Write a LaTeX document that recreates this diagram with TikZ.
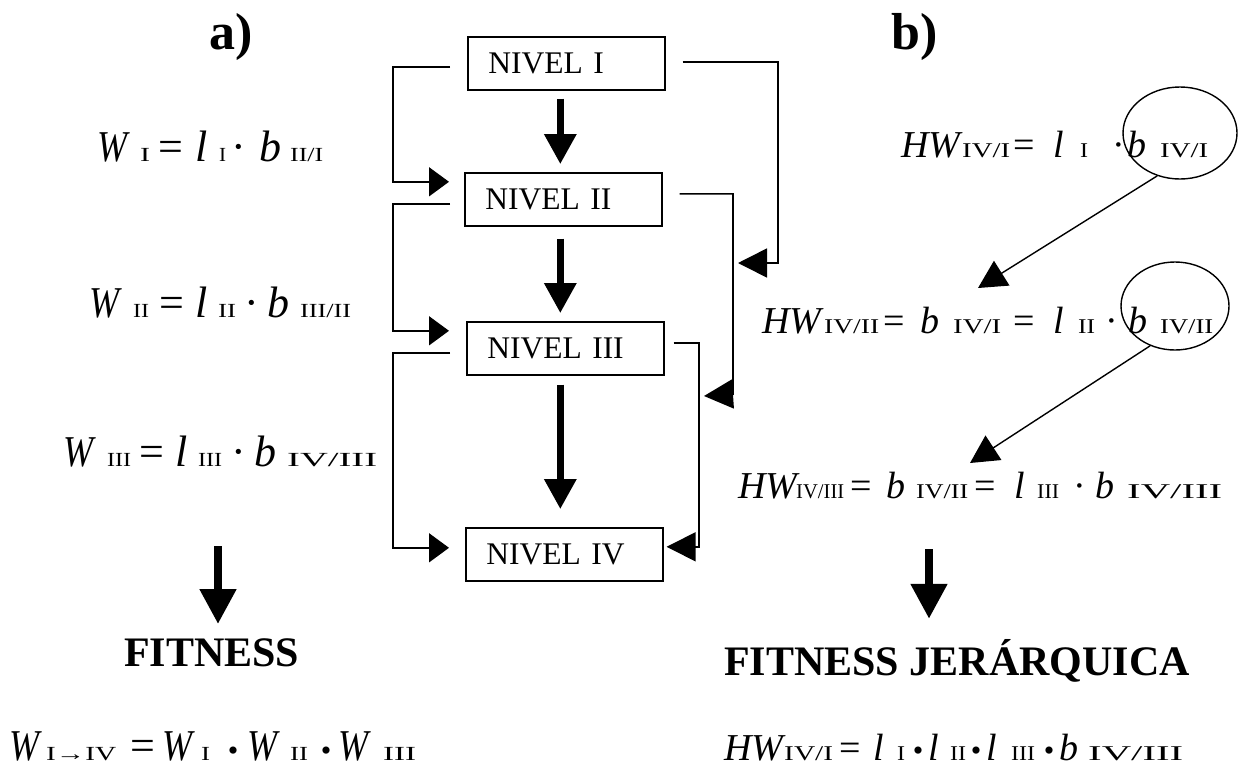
\documentclass[tikz,border=0pt]{standalone}
\usepackage{fontspec}
\setmainfont{Liberation Serif}
\usepackage{graphicx}
\usetikzlibrary{arrows.meta,shapes.geometric}

% pieces of the formulas: large italic symbols, large operators, small roman indices
\newcommand\LVar[1]{{\fontsize{44}{44}\selectfont\itshape #1}}
\newcommand\LOp[1]{{\fontsize{44}{44}\selectfont #1}}
\newcommand\LW{\scalebox{0.82}[1]{\LVar{W}}}
\newcommand\RVar[1]{{\fontsize{38}{38}\selectfont\itshape #1}}
\newcommand\ROp[1]{{\fontsize{38}{38}\selectfont #1}}
\newcommand\Ix[2]{\resizebox{#1pt}{\height}{\fontsize{20}{20}\selectfont #2}}
\newcommand\IxR[2]{\resizebox{#1pt}{\height}{\fontsize{21}{21}\selectfont #2}}
\newcommand\Bul{{\fontsize{30}{30}\selectfont •}}
% one token of a formula, given the advance to the next token
\newcommand\Tk[2]{\makebox[#1pt][l]{#2}}

\begin{document}
\begin{tikzpicture}[x=1pt,y=-1pt,
  lvl/.style={draw, line width=1.6pt, anchor=north west, minimum height=53pt,
    text width=156pt, inner xsep=20.5pt, inner ysep=0pt, align=left,
    font=\fontsize{31.5}{32}\selectfont},
  eq/.style={anchor=base west, inner sep=0pt},
  ttl/.style={anchor=base west, inner sep=0pt, font=\bfseries\fontsize{52}{52}\selectfont},
  res/.style={anchor=base west, inner sep=0pt, font=\bfseries\fontsize{42}{42}\selectfont},
  down/.style={line width=6.5pt, -{Triangle[length=30pt,width=31pt]}},
  bigdown/.style={line width=8pt, -{Triangle[length=35pt,width=35pt]}},
  feed/.style={line width=1.6pt, -{Triangle[length=20pt,width=29pt]}},
  back/.style={line width=1.6pt, -{Triangle[length=29pt,width=29pt]}},
  pass/.style={line width=1.4pt, -{Triangle[length=28pt,width=29pt]}},
  ring/.style={draw, ellipse, line width=1.4pt, inner sep=0pt}
]
\useasboundingbox (0,0) rectangle (1241,769);

% panel titles
\node[ttl] (ta) at (209,49) {a)};
\node[ttl] (tb) at (891,49) {b)};

% the four levels
\node[lvl] (n1) at (467,36) {NIVEL I};
\node[lvl] (n2) at (464,172) {NIVEL II};
\node[lvl] (n3) at (466,321) {NIVEL III};
\node[lvl] (n4) at (465,527) {NIVEL IV};

% level to level
\draw[down] ([xshift=-6pt,yshift=-8pt]n1.south) -- ([xshift=-3pt,yshift=8pt]n2.north);
\draw[down] ([xshift=-3pt,yshift=-12pt]n2.south) -- ([xshift=-5pt,yshift=8pt]n3.north);
\draw[down] ([xshift=-5pt,yshift=-9pt]n3.south) -- ([xshift=-4pt,yshift=18pt]n4.north);

% left brackets
\coordinate (lx) at (393,0);
\draw[feed] ([xshift=-17pt,yshift=-3.5pt]n1.west) coordinate (s1) -- (s1 -| lx)
  |- ([xshift=-15pt,yshift=17.5pt]n2.west);
\draw[feed] ([xshift=-14pt,yshift=-4.5pt]n2.west) coordinate (s2) -- (s2 -| lx)
  |- ([xshift=-17pt,yshift=17.5pt]n3.west);
\draw[feed] ([xshift=-16pt,yshift=-4.5pt]n3.west) coordinate (s3) -- (s3 -| lx)
  |- ([xshift=-16pt,yshift=6.5pt]n4.west);

% right connectors
\coordinate (t1) at (738,263);
\coordinate (t2) at (704,396);
\draw[back] ([xshift=17pt,yshift=1.5pt]n1.east) coordinate (r1) -- (r1 -| 778,0) -- (778,263) -- (t1);
\draw[back] ([xshift=17pt,yshift=5.5pt]n2.east) coordinate (r2) -- (r2 -| 733,0) -- (733,394) -- (t2);
\draw[back] ([xshift=9pt,yshift=5.5pt]n3.east) coordinate (r3) -- (r3 -| 699,0)
  |- ([xshift=3pt,yshift=7.5pt]n4.east);

% fitness per level
\node[eq] (w1) at (97,161) {\Tk{43}{\LW}\Tk{18}{\Ix{10}{I}}\Tk{37}{\LOp{=}}\Tk{24}{\LVar{l}}\Tk{12.5}{\Ix{7}{I}}\Tk{27.5}{\LOp{·}}\Tk{31}{\LVar{b}}\Ix{33}{II/I}};
\node[eq] (w2) at (89,317) {\Tk{44}{\LW}\Tk{26}{\Ix{16}{II}}\Tk{36}{\LOp{=}}\Tk{23}{\LVar{l}}\Tk{26.5}{\Ix{18}{II}}\Tk{22.5}{\LOp{·}}\Tk{33}{\LVar{b}}\Ix{51}{III/II}};
\node[eq] (w3) at (63,466) {\Tk{44}{\LW}\Tk{32}{\Ix{24}{III}}\Tk{36}{\LOp{=}}\Tk{23}{\LVar{l}}\Tk{33.5}{\Ix{24}{III}}\Tk{22.5}{\LOp{·}}\Tk{33}{\LVar{b}}\Ix{90}{IV/III}};

% hierarchical fitness
\node[eq] (h1) at (901,157) {\Tk{61}{\RVar{HW}}\Tk{51}{\IxR{48}{IV/I}}\Tk{40}{\ROp{=}}\Tk{27}{\RVar{l}}\Tk{32.25}{\IxR{8}{I}}\Tk{14.75}{\ROp{·}}\Tk{33}{\RVar{b}}\IxR{48}{IV/I}};
\node[eq] (h2) at (762,333) {\Tk{62}{\RVar{HW}}\Tk{59}{\IxR{55}{IV/II}}\Tk{37}{\ROp{=}}\Tk{33}{\RVar{b}}\Tk{60}{\IxR{48}{IV/I}}\Tk{40}{\ROp{=}}\Tk{25}{\RVar{l}}\Tk{27.25}{\IxR{17}{II}}\Tk{22.75}{\ROp{·}}\Tk{32}{\RVar{b}}\IxR{53}{IV/II}};
\node[eq] (h3) at (738,498) {\Tk{58}{\RVar{HW}}\Tk{54}{\IxR{48}{IV/III}}\Tk{36}{\ROp{=}}\Tk{30}{\RVar{b}}\Tk{58}{\IxR{52}{IV/II}}\Tk{40}{\ROp{=}}\Tk{23}{\RVar{l}}\Tk{36.25}{\IxR{22}{III}}\Tk{21.75}{\ROp{·}}\Tk{32}{\RVar{b}}\IxR{95}{IV/III}};

% ringed terms carried down to the next level
\node[ring, minimum width=114pt, minimum height=92pt] (e1) at (1180,133) {};
\node[ring, minimum width=108pt, minimum height=88pt] (e2) at (1175,306) {};
\coordinate (a1) at (978,288);
\coordinate (a2) at (970,463);
\draw[pass] (e1.-118) -- (a1);
\draw[pass] (e2.-122) -- (a2);

% results
\node[res] (f1) at (124,666) {FITNESS};
\node[res] (f2) at (724,675) {FITNESS JERÁRQUICA};
\coordinate (d1) at (218,546);
\coordinate (d2) at (929,549);
\draw[bigdown] (d1) -- ([yshift=14pt]f1.north -| d1);
\draw[bigdown] (d2) -- ([yshift=20pt]f2.north -| d2);

\node[eq] (p1) at (9,760) {\Tk{37}{\LW}\Tk{84}{\Ix{70}{I→IV}}\Tk{32}{\LOp{=}}\Tk{39}{\LW}\Tk{26.75}{\Ix{9}{I}}\Tk{19.25}{\Bul}\Tk{43}{\LW}\Tk{30.75}{\Ix{18}{II}}\Tk{17.25}{\Bul}\Tk{45}{\LW}\Ix{33}{III}};
\node[eq] (p2) at (724,760) {\Tk{60}{\RVar{HW}}\Tk{55}{\IxR{49}{IV/I}}\Tk{34}{\ROp{=}}\Tk{24}{\RVar{l}}\Tk{15.75}{\IxR{8}{I}}\Tk{15.25}{\Bul}\Tk{22}{\RVar{l}}\Tk{20.75}{\IxR{16}{II}}\Tk{15.25}{\Bul}\Tk{25}{\RVar{l}}\Tk{32.75}{\IxR{24}{III}}\Tk{15.25}{\Bul}\Tk{29}{\RVar{b}}\IxR{95}{IV/III}};
\end{tikzpicture}
\end{document}
